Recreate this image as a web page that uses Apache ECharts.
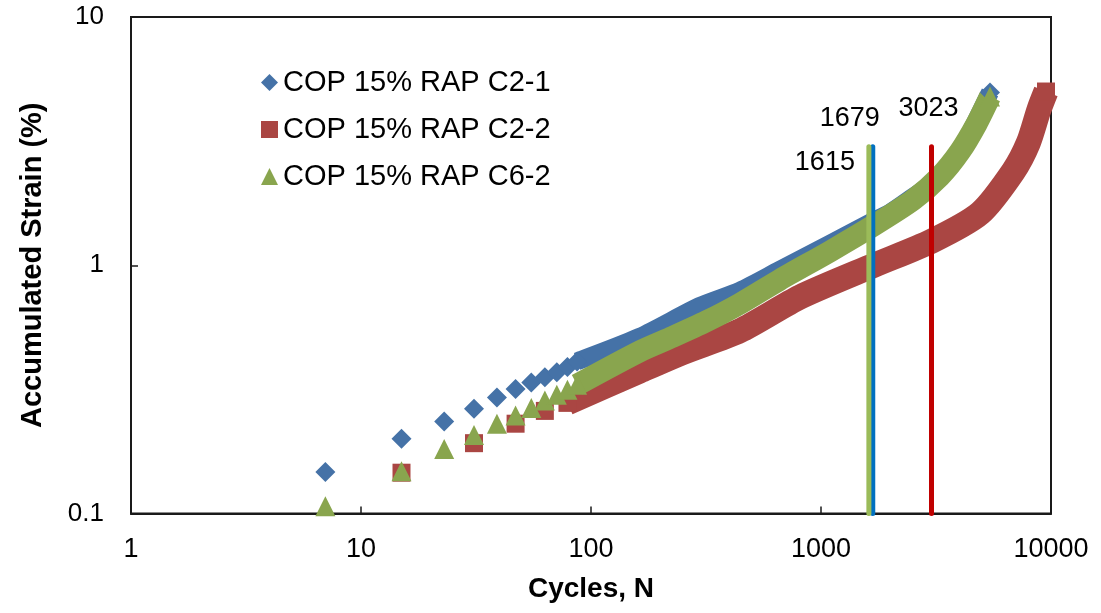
<!DOCTYPE html>
<html>
<head>
<meta charset="utf-8">
<script src="https://cdn.jsdelivr.net/npm/echarts@6/dist/echarts.min.js"></script>
<style>
  html, body { margin: 0; padding: 0; background: #ffffff; }
  #chart { width: 1101px; height: 613px; }
</style>
</head>
<body>
<div id="chart"></div>
<script>
// Accumulated permanent strain (%) against load cycles N, log-log.
const seriesNames = ['COP 15% RAP C2-1', 'COP 15% RAP C2-2', 'COP 15% RAP C6-2'];

const cyclesC21 = [7, 15, 23, 31, 39, 47, 55, 63, 71, 79, 87, 163, 297, 444, 663, 1094, 1632, 1995, 2520, 3078, 3760, 4300, 5430];
const strainC21 = [0.147, 0.200, 0.235, 0.264, 0.293, 0.317, 0.337, 0.354, 0.371, 0.389, 0.410, 0.515, 0.685, 0.790, 0.959, 1.221, 1.484, 1.628, 1.889, 2.151, 2.59, 3.21, 4.97];

const cyclesC22 = [15, 31, 47, 63, 79, 163, 250, 444, 811, 1700, 3023, 4913, 6858, 7968, 8870, 9510];
const strainC22 = [0.146, 0.192, 0.230, 0.259, 0.279, 0.375, 0.445, 0.545, 0.745, 1.00, 1.25, 1.62, 2.39, 3.11, 4.24, 5.01];

const cyclesC62 = [7, 15, 23, 31, 39, 47, 55, 63, 71, 79, 87, 163, 227, 318, 444, 663, 1094, 1688, 2520, 3289, 4020, 4753, 5430];
const strainC62 = [0.107, 0.148, 0.182, 0.207, 0.230, 0.248, 0.266, 0.285, 0.301, 0.315, 0.330, 0.450, 0.515, 0.595, 0.700, 0.875, 1.137, 1.443, 1.836, 2.28, 2.87, 3.72, 4.78];

// Cycles to failure for each specimen, marked by vertical lines up to 3 %
const failureCycles = [1679, 3023, 1615];
const failureLineTop = 3;
const failureLineBottom = 0.1;

const xTicks = [1, 10, 100, 1000, 10000];
const yTicks = [0.1, 1, 10];

const FONT = '"Liberation Sans", Arial, sans-serif';
const colors = ['#4572A7', '#AA4643', '#89A54E'];
const lineColors = ['#0070C0', '#C00000', '#9BBB59'];
const symbols = ['diamond', 'rect', 'triangle'];
const symbolSizes = [20, 18, 20];
// index from which consecutive markers merge into a continuous band
const bandFrom = [10, 4, 10];
const bandWidths = [18, 25, 22];

const cycles = [cyclesC21, cyclesC22, cyclesC62];
const strains = [strainC21, strainC22, strainC62];

function pairs(xs, ys) { return xs.map((x, i) => [x, ys[i]]); }

const series = [];
for (let i = 0; i < 3; i++) {
  const pts = pairs(cycles[i], strains[i]);
  // dense readings drawn as a thick band
  series.push({
    name: seriesNames[i] + ' band',
    type: 'line',
    data: pts.slice(bandFrom[i]),
    smooth: 0.25,
    showSymbol: false,
    symbol: 'none',
    clip: false,
    silent: true,
    lineStyle: { color: colors[i], width: bandWidths[i], join: 'round', cap: 'butt' },
    z: 2
  });
  // separate markers at the start, plus the closing marker of the band
  series.push({
    name: seriesNames[i],
    type: 'scatter',
    data: pts.slice(0, bandFrom[i] + 1).concat([pts[pts.length - 1]]),
    symbol: symbols[i],
    symbolSize: symbolSizes[i],
    itemStyle: { color: colors[i], opacity: 1 },
    z: 2
  });
}

// failure lines, drawn over the curves; green over blue
const lineOrder = [1, 0, 2];
lineOrder.forEach(i => {
  const n = failureCycles[i];
  series.push({
    name: 'failure ' + n,
    type: 'line',
    data: [[n, failureLineBottom], [n, failureLineTop]],
    symbol: 'none',
    silent: true,
    lineStyle: { color: lineColors[i], width: 5, cap: 'round' },
    z: 3
  });
});

// labels giving the failure cycle counts
const labelOffsets = [[-23, -28], [-3, -38], [-44, 16]];
series.push({
  name: 'failure labels',
  type: 'scatter',
  symbolSize: 0,
  silent: true,
  itemStyle: { opacity: 1 },
  data: failureCycles.map((n, i) => ({
    value: [n, failureLineTop],
    label: {
      show: true,
      position: labelOffsets[i],
      align: 'center',
      verticalAlign: 'middle',
      formatter: String(n),
      fontFamily: FONT,
      fontSize: 27,
      color: '#000000',
      opacity: 1
    }
  })),
  z: 4
});

const chart = echarts.init(document.getElementById('chart'), null, { renderer: 'canvas' });
chart.setOption({
  animation: false,
  backgroundColor: '#ffffff',
  grid: {
    left: 131, right: 50, top: 17, bottom: 99.5,
    show: true, borderColor: '#1a1a1a', borderWidth: 2, backgroundColor: 'transparent'
  },
  legend: {
    orient: 'vertical',
    left: 256,
    top: 63,
    itemWidth: 17,
    itemHeight: 17,
    itemGap: 18,
    selectedMode: false,
    textStyle: { fontFamily: FONT, fontSize: 29, color: '#000', lineHeight: 29 },
    data: seriesNames.map((n, i) => ({ name: n, icon: symbols[i] }))
  },
  xAxis: {
    type: 'log',
    logBase: 10,
    min: xTicks[0],
    max: xTicks[xTicks.length - 1],
    name: 'Cycles, N',
    nameLocation: 'middle',
    nameGap: 62,
    nameTextStyle: { fontFamily: FONT, fontSize: 28, fontWeight: 'bold', color: '#000' },
    axisLine: { lineStyle: { color: '#1a1a1a', width: 2 } },
    axisTick: { inside: true, length: 7, lineStyle: { color: '#1a1a1a', width: 1.5 } },
    axisLabel: {
      fontFamily: FONT, fontSize: 27, color: '#000', margin: 23,
      formatter: v => String(Math.round(v))
    },
    splitLine: { show: false }
  },
  yAxis: {
    type: 'log',
    logBase: 10,
    min: yTicks[0],
    max: yTicks[yTicks.length - 1],
    name: 'Accumulated Strain (%)',
    nameLocation: 'middle',
    nameGap: 84,
    nameTextStyle: { fontFamily: FONT, fontSize: 29, fontWeight: 'bold', color: '#000' },
    axisLine: { lineStyle: { color: '#1a1a1a', width: 2 } },
    axisTick: { inside: true, length: 7, lineStyle: { color: '#1a1a1a', width: 1.5 } },
    axisLabel: {
      fontFamily: FONT, fontSize: 26, color: '#000', margin: 27,
      formatter: v => (v < 1 ? v.toFixed(1) : String(Math.round(v)))
    },
    splitLine: { show: false }
  },
  series: series
});
</script>
</body>
</html>
